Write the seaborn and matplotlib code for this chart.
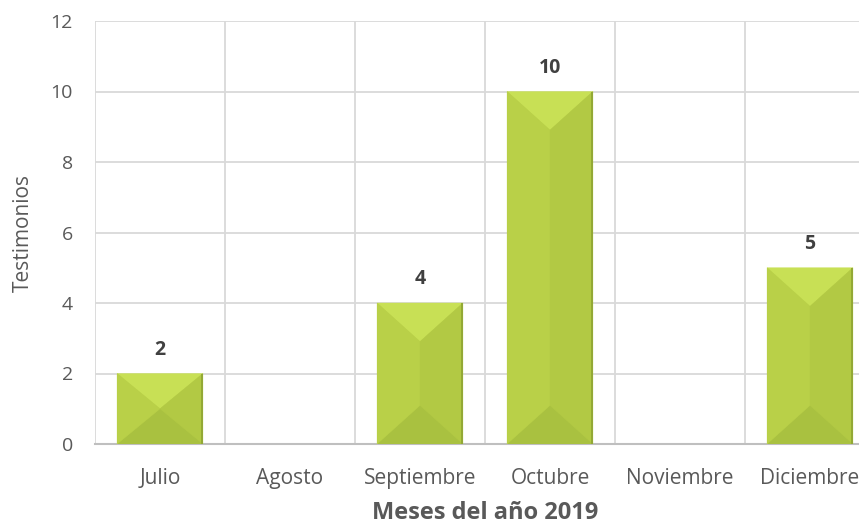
import numpy as np
import pandas as pd
import seaborn as sns
from matplotlib import pyplot as plt
from matplotlib.patches import Polygon

# data
meses = ["Julio", "Agosto", "Septiembre", "Octubre", "Noviembre", "Diciembre"]
testimonios = [2, 0, 4, 10, 0, 5]
y_ticks = [0, 2, 4, 6, 8, 10, 12]

df = pd.DataFrame({"mes": meses, "testimonios": testimonios})

sns.set_theme(style="white")
plt.rcParams["font.family"] = ["Open Sans", "DejaVu Sans"]

text_col = "#595959"
grid_col = "#d9d9d9"
body_col = "#b3ca44"

fig = plt.figure(figsize=(8.59, 5.24), dpi=100)
# plot area runs past the right edge like in the reference screenshot
ax = fig.add_axes([95 / 859, 80 / 524, 780 / 859, 423 / 524])

sns.barplot(data=df, x="mes", y="testimonios", color=body_col, saturation=1,
            width=0.66, linewidth=0, ax=ax)

ax.set_ylim(0, 12)
ax.set_xlim(-0.5, len(meses) - 0.5)
ax.set_yticks(y_ticks)

# gridlines: horizontal at ticks, vertical between categories
for yv in y_ticks[1:]:
    ax.axhline(yv, color=grid_col, lw=1.3, zorder=0)
for xv in np.arange(-0.5, len(meses), 1.0):
    ax.axvline(xv, color=grid_col, lw=1.3, zorder=0)

for s in ["top", "right", "left"]:
    ax.spines[s].set_visible(False)
ax.spines["bottom"].set_color("#bfbfbf")
ax.spines["bottom"].set_linewidth(1.5)

ax.tick_params(axis="both", length=0, labelsize=14, colors=text_col)
ax.tick_params(axis="x", labelsize=15, pad=17)
ax.tick_params(axis="y", pad=16)
ax.set_xlabel("Meses del año 2019", fontsize=17, fontweight="bold",
              color=text_col, labelpad=9)
ax.set_ylabel("Testimonios", fontsize=15, color=text_col, labelpad=12)

# bevel look: four facets per bar, computed from the bar patch in pixels
inv = ax.transData.inverted()
for bar in ax.patches:
    h = bar.get_height()
    if h <= 0:
        continue
    x0, w = bar.get_x(), bar.get_width()
    (px0, py0), (px1, py1) = ax.transData.transform([(x0, 0), (x0 + w, h)])
    d = min(0.45 * (px1 - px0), (py1 - py0) / 2)
    cx = (px0 + px1) / 2
    top_apex = (cx, py1 - d)
    bot_apex = (cx, py0 + d)
    facets = [
        ([(px0, py1), (px1, py1), top_apex], "#c8e055"),
        ([(px0, py0), (px1, py0), bot_apex], "#a9c140"),
        ([(px0, py0), (px0, py1), top_apex, bot_apex], "#b9d048"),
        ([(px1, py0), (px1, py1), top_apex, bot_apex], "#b2c944"),
    ]
    for pts, col in facets:
        ax.add_patch(Polygon(inv.transform(pts), closed=True, facecolor=col,
                             edgecolor=col, lw=0.3, zorder=3))
    # darker rim on the right edge
    ax.add_patch(Polygon(inv.transform([(px1 - 2, py0), (px1, py0), (px1, py1), (px1 - 2, py1)]),
                         closed=True, facecolor="#93a935", lw=0, zorder=4))
    ax.annotate(f"{int(h)}", (x0 + w / 2, h), xytext=(0, 10), textcoords="offset points",
                ha="center", va="bottom", fontsize=14, fontweight="bold", color="#404040")

fig.savefig("out.png", dpi=100)
